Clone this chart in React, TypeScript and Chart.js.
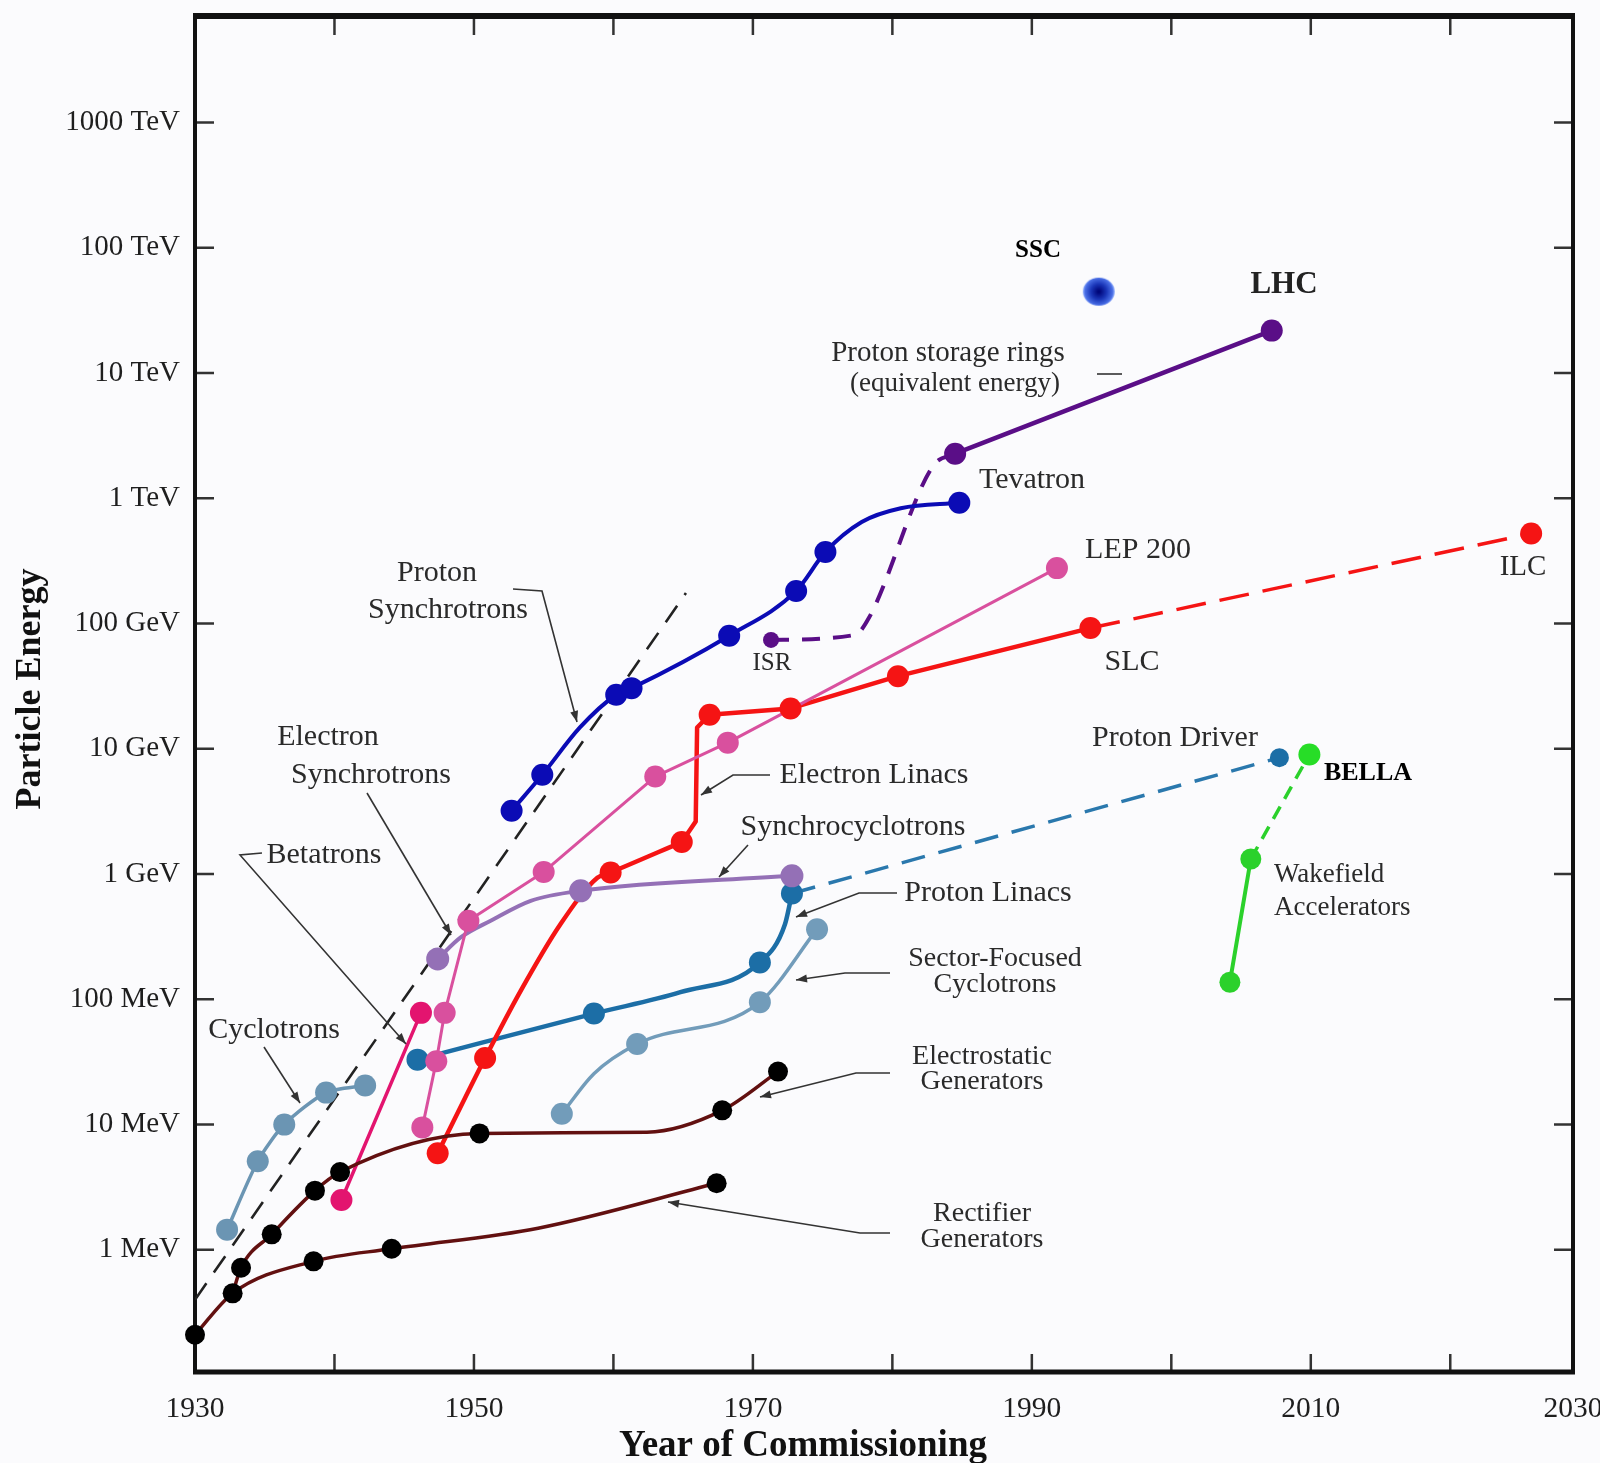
import React, { useEffect, useRef } from 'react';
import { Chart, registerables } from 'chart.js';

Chart.register(...registerables);

type P = [number, number]; // [year, energy in MeV]

// ---------------- data (year, MeV) ----------------
const rectifierPoints: P[] = [[1930, 0.21], [1932.7, 0.45], [1938.5, 0.81], [1944.1, 1.02], [1967.4, 3.4]];
const rectifierBends: P[] = [[1954.6, 1.49]];

const electrostaticPoints: P[] = [[1933.3, 0.72], [1935.5, 1.33], [1938.6, 2.97], [1940.4, 4.18], [1950.4, 8.5], [1967.8, 13], [1971.8, 26.5]];
const electrostaticBends: P[] = [[1932.7, 0.45], [1962.4, 8.7]];

const cyclotronPoints: P[] = [[1932.3, 1.45], [1934.5, 5.1], [1936.4, 10], [1939.4, 18], [1942.2, 20.5]];

const betatronPoints: P[] = [[1940.5, 2.5], [1946.2, 78]];

const electronSynchPoints: P[] = [[1946.3, 9.5], [1947.3, 32], [1947.9, 78], [1949.6, 424], [1955.0, 1040], [1963.0, 6000], [1968.2, 11200], [1991.8, 277000]];

const synchrocyclotronPoints: P[] = [[1947.4, 210], [1957.65, 735], [1972.8, 968]];
const synchrocyclotronBends: P[] = [[1949.05, 312], [1951.2, 424], [1954.07, 612]];

const electronLinacPoints: P[] = [[1947.4, 5.9], [1950.8, 34], [1959.8, 1030], [1964.9, 1800], [1966.9, 18700], [1972.7, 21000], [1980.4, 38000], [1994.2, 92000]];
const electronLinacCurveBends: P[] = [[1953.35, 117], [1956.2, 398], [1958.85, 933]];
const electronLinacJumpBends: P[] = [[1965.9, 2630], [1966.0, 14800]];
const ilcPoints: P[] = [[1994.2, 92000], [2025.8, 523000]];

const protonLinacPoints: P[] = [[1945.95, 33], [1958.6, 77], [1970.5, 197], [1972.8, 700]];
const protonLinacBends: P[] = [[1964.8, 114], [1972.3, 398]];
const protonDriverPoints: P[] = [[1972.8, 700], [2007.75, 8500]];

const sectorFocusedPoints: P[] = [[1956.3, 12.2], [1961.7, 44], [1970.5, 95], [1974.6, 363]];
const sectorFocusedBends: P[] = [[1958.6, 25.5]];

const protonSynchPoints: P[] = [[1952.7, 3200], [1954.9, 6200], [1960.2, 27000], [1961.3, 30500], [1968.3, 80000], [1973.1, 182000], [1975.2, 373000], [1984.8, 920000]];
const protonSynchBends: P[] = [[1957.6, 14800], [1977.8, 646000], [1980.6, 832000]];

const isrPoints: P[] = [[1971.3, 74000]];
const storageDashBends: P[] = [[1977.3, 81000], [1978.3, 110000], [1982.9, 1800000]];
const storageRingPoints: P[] = [[1984.5, 2270000], [2007.2, 21800000]];

const sscPoints: P[] = [[1994.8, 44600000]];

const wakefieldPoints: P[] = [[2004.2, 137], [2005.7, 1320]];
const bellaPoints: P[] = [[2009.9, 9000]];

const livingstonTrend: P[] = [[1930, 0.4], [1965.2, 175000]];

const yTickValues = [1, 10, 100, 1e3, 1e4, 1e5, 1e6, 1e7, 1e8, 1e9];
const yTickLabels = ['1 MeV', '10 MeV', '100 MeV', '1 GeV', '10 GeV', '100 GeV', '1 TeV', '10 TeV', '100 TeV', '1000 TeV'];
const xTickValues = [1930, 1940, 1950, 1960, 1970, 1980, 1990, 2000, 2010, 2020];
const xTickLabels = ['1930', '', '1950', '', '1970', '', '1990', '', '2010', ''];
const xEndLabel = '2030';

// ---------------- layout constants ----------------
const X_MIN = 1930;
const X_MAX = 2028.8; // frame edge of the reference (labelled 2030)
const Y_MIN = Math.pow(10, -0.975);
const Y_MAX = Math.pow(10, 9.85);
const SERIF = '"Liberation Serif", "Times New Roman", serif';

const merge = (a: P[], b: P[]): P[] => [...a, ...b].sort((p, q) => p[0] - q[0] || p[1] - q[1]);
const xy = (arr: P[]) => arr.map(([x, y]) => ({ x, y }));
const between = (arr: P[], lo: number, hi: number) => arr.filter(([x]) => x >= lo && x <= hi);

function lineDs(data: P[], color: string, width: number, extra: any = {}) {
  return {
    data: xy(data), showLine: true, borderColor: color, backgroundColor: color,
    borderWidth: width, pointRadius: 0, pointHoverRadius: 0, fill: false, order: 2,
    borderCapStyle: 'round', borderJoinStyle: 'round', tension: 0, ...extra,
  };
}
function markerDs(data: P[], color: string, radius: number, extra: any = {}) {
  return {
    data: xy(data), showLine: false, pointRadius: radius, pointHoverRadius: radius,
    pointBackgroundColor: color, pointBorderColor: color, pointBorderWidth: 0,
    backgroundColor: color, borderColor: color, order: 1, clip: false, ...extra,
  };
}
const smooth = { cubicInterpolationMode: 'monotone', tension: 0.4 };

type Ann = { t: string; x: number; y: number; size?: number; bold?: boolean; color?: string; align?: CanvasTextAlign };
const annotations: Ann[] = [
  { t: 'SSC', x: 1038, y: 251, size: 25, bold: true, color: '#000' },
  { t: 'LHC', x: 1284, y: 285, size: 31, bold: true, color: '#222' },
  { t: 'Proton storage rings', x: 948, y: 353, size: 29 },
  { t: '(equivalent energy)', x: 955, y: 384, size: 27 },
  { t: 'Tevatron', x: 1032, y: 480, size: 30 },
  { t: 'LEP 200', x: 1138, y: 550, size: 30 },
  { t: 'ILC', x: 1523, y: 567, size: 29 },
  { t: 'SLC', x: 1132, y: 662, size: 30 },
  { t: 'ISR', x: 772, y: 663, size: 25 },
  { t: 'Proton', x: 437, y: 573, size: 30 },
  { t: 'Synchrotrons', x: 448, y: 610, size: 30 },
  { t: 'Electron', x: 328, y: 737, size: 30 },
  { t: 'Synchrotrons', x: 371, y: 775, size: 30 },
  { t: 'Betatrons', x: 324, y: 855, size: 30 },
  { t: 'Cyclotrons', x: 274, y: 1030, size: 30 },
  { t: 'Electron Linacs', x: 874, y: 775, size: 30 },
  { t: 'Synchrocyclotrons', x: 853, y: 827, size: 30 },
  { t: 'Proton Linacs', x: 988, y: 893, size: 30 },
  { t: 'Sector-Focused', x: 995, y: 959, size: 28 },
  { t: 'Cyclotrons', x: 995, y: 985, size: 28 },
  { t: 'Electrostatic', x: 982, y: 1057, size: 28 },
  { t: 'Generators', x: 982, y: 1082, size: 28 },
  { t: 'Rectifier', x: 982, y: 1214, size: 28 },
  { t: 'Generators', x: 982, y: 1240, size: 28 },
  { t: 'Proton Driver', x: 1175, y: 738, size: 30 },
  { t: 'BELLA', x: 1368, y: 773, size: 26, bold: true, color: '#000' },
  { t: 'Wakefield', x: 1274, y: 875, size: 27, align: 'left' },
  { t: 'Accelerators', x: 1274, y: 908, size: 27, align: 'left' },
];

type Leader = { pts: number[][]; arrow: boolean };
const leaders: Leader[] = [
  { pts: [[513, 589], [542, 591], [577, 722]], arrow: true },
  { pts: [[367, 793], [451, 935]], arrow: true },
  { pts: [[262, 853], [240, 855], [406, 1044]], arrow: true },
  { pts: [[264, 1047], [300, 1103]], arrow: true },
  { pts: [[770, 775], [733, 775], [701, 795]], arrow: true },
  { pts: [[748, 845], [719, 877]], arrow: true },
  { pts: [[897, 893], [859, 893], [796, 917]], arrow: true },
  { pts: [[890, 973], [845, 973], [796, 980]], arrow: true },
  { pts: [[890, 1073], [856, 1073], [760, 1097]], arrow: true },
  { pts: [[890, 1233], [860, 1233], [668, 1202]], arrow: true },
  { pts: [[1097, 374], [1122, 374]], arrow: false },
];

const bgPlugin = {
  id: 'bg',
  beforeDraw(chart: any) {
    const c = chart.ctx;
    c.save();
    c.fillStyle = '#fbfbfd';
    c.fillRect(0, 0, chart.width, chart.height);
    c.restore();
  },
};

const framePlugin = {
  id: 'frame',
  beforeDatasetsDraw(chart: any) {
    const c = chart.ctx;
    const { left, right, top, bottom } = chart.chartArea;
    const xs = chart.scales.x;
    const ys = chart.scales.y;
    c.save();
    c.strokeStyle = '#333';
    c.lineWidth = 2.5;
    c.beginPath();
    yTickValues.forEach((v) => {
      const py = ys.getPixelForValue(v);
      c.moveTo(left, py); c.lineTo(left + 19, py);
      c.moveTo(right, py); c.lineTo(right - 19, py);
    });
    xTickValues.forEach((v) => {
      const px = xs.getPixelForValue(v);
      if (px <= left + 2) return;
      c.moveTo(px, bottom); c.lineTo(px, bottom - 18);
      c.moveTo(px, top); c.lineTo(px, top + 19);
    });
    c.stroke();
    c.strokeStyle = '#111';
    c.lineWidth = 4;
    c.strokeRect(left, top, right - left, bottom - top);
    c.lineWidth = 6;
    c.beginPath(); c.moveTo(left - 2, top); c.lineTo(right + 2, top); c.stroke();
    c.lineWidth = 5;
    c.beginPath(); c.moveTo(left - 2, bottom); c.lineTo(right + 2, bottom); c.stroke();
    c.restore();
  },
};

const annPlugin = {
  id: 'ann',
  afterDraw(chart: any) {
    const c = chart.ctx;
    c.save();
    c.strokeStyle = '#333';
    c.fillStyle = '#333';
    c.lineWidth = 1.6;
    leaders.forEach((l) => {
      c.beginPath();
      l.pts.forEach(([x, y], i) => (i === 0 ? c.moveTo(x, y) : c.lineTo(x, y)));
      c.stroke();
      if (l.arrow) {
        const n = l.pts.length;
        const [x1, y1] = l.pts[n - 2];
        const [x2, y2] = l.pts[n - 1];
        const a = Math.atan2(y2 - y1, x2 - x1);
        const L = 11, W = 4;
        c.beginPath();
        c.moveTo(x2, y2);
        c.lineTo(x2 - L * Math.cos(a) + W * Math.sin(a), y2 - L * Math.sin(a) - W * Math.cos(a));
        c.lineTo(x2 - L * Math.cos(a) - W * Math.sin(a), y2 - L * Math.sin(a) + W * Math.cos(a));
        c.closePath();
        c.fill();
      }
    });
    c.textBaseline = 'middle';
    annotations.forEach((a) => {
      c.font = `${a.bold ? 'bold ' : ''}${a.size || 30}px ${SERIF}`;
      c.fillStyle = a.color || '#2a2a2a';
      c.textAlign = a.align || 'center';
      c.fillText(a.t, a.x, a.y);
    });
    c.fillStyle = '#111';
    c.font = `bold 37px ${SERIF}`;
    c.textAlign = 'center';
    c.fillText('Year of Commissioning', 803, 1446);
    c.save();
    c.translate(31, 689);
    c.rotate(-Math.PI / 2);
    c.font = `bold 36px ${SERIF}`;
    c.fillText('Particle Energy', 0, 0);
    c.restore();
    c.restore();
  },
};

export default function App() {
  const ref = useRef<HTMLCanvasElement | null>(null);

  useEffect(() => {
    if (!ref.current) return;

    const ssc = document.createElement('canvas');
    ssc.width = 36; ssc.height = 32;
    const g = ssc.getContext('2d')!;
    const grad = g.createRadialGradient(18, 16, 1, 18, 16, 16);
    grad.addColorStop(0, '#00067a');
    grad.addColorStop(0.45, '#1a36b8');
    grad.addColorStop(0.85, '#4a6fe6');
    grad.addColorStop(1, '#9ab6ff');
    g.fillStyle = grad;
    g.beginPath(); g.ellipse(18, 16, 16, 14, 0, 0, Math.PI * 2); g.fill();

    const maroon = '#621010';
    const eLinacSmooth = merge(between(electronLinacPoints, 1947, 1965), electronLinacCurveBends);
    const eLinacStraight = merge(between(electronLinacPoints, 1964.8, 2000), electronLinacJumpBends);

    const datasets: any[] = [
      lineDs(livingstonTrend, '#222', 2.6, { borderDash: [20, 13], borderCapStyle: 'butt', order: 3 }),
      lineDs(merge(rectifierPoints, rectifierBends), maroon, 3.5, smooth),
      lineDs(merge(electrostaticPoints, electrostaticBends), maroon, 3.5, smooth),
      lineDs(cyclotronPoints, '#6b95b3', 3.5, { tension: 0.25 }),
      lineDs(betatronPoints, '#e3146f', 3.5),
      lineDs(electronSynchPoints, '#d9509e', 3),
      lineDs(merge(synchrocyclotronPoints, synchrocyclotronBends), '#9470b6', 4, smooth),
      lineDs(eLinacSmooth, '#f51414', 4.5, smooth),
      lineDs(eLinacStraight, '#f51414', 4.5),
      lineDs(ilcPoints, '#f51414', 3.5, { borderDash: [30, 14], borderCapStyle: 'butt' }),
      lineDs(merge(protonLinacPoints, protonLinacBends), '#1c6ea6', 4.5, smooth),
      lineDs(protonDriverPoints, '#2a78ad', 3.5, { borderDash: [24, 14], borderCapStyle: 'butt' }),
      lineDs(merge(sectorFocusedPoints, sectorFocusedBends), '#729cba', 3.5, smooth),
      lineDs(merge(protonSynchPoints, protonSynchBends), '#0b0bb5', 4, smooth),
      lineDs(merge(isrPoints, merge(storageDashBends, storageRingPoints.slice(0, 1))), '#5a0e87', 4, { ...smooth, borderDash: [18, 13], borderCapStyle: 'butt' }),
      lineDs(storageRingPoints, '#5a0e87', 4.5),
      lineDs(wakefieldPoints, '#2bd12b', 4),
      lineDs([wakefieldPoints[wakefieldPoints.length - 1], ...bellaPoints], '#2bd12b', 3.5, { borderDash: [14, 9], borderCapStyle: 'butt' }),
      markerDs(rectifierPoints, '#000', 10),
      markerDs(electrostaticPoints, '#000', 10),
      markerDs(cyclotronPoints, '#6b95b3', 11),
      markerDs(betatronPoints, '#e3146f', 11),
      markerDs(electronSynchPoints, '#d9509e', 11),
      markerDs(synchrocyclotronPoints, '#9470b6', 11.5),
      markerDs(electronLinacPoints, '#f51414', 11),
      markerDs(ilcPoints.slice(1), '#f51414', 11),
      markerDs(protonLinacPoints, '#1c6ea6', 11),
      markerDs(protonDriverPoints.slice(1), '#1c6ea6', 9.5),
      markerDs(sectorFocusedPoints, '#729cba', 11),
      markerDs(protonSynchPoints, '#0b0bb5', 11),
      markerDs(isrPoints, '#5a0e87', 8),
      markerDs(storageRingPoints, '#5a0e87', 11),
      markerDs(wakefieldPoints, '#2bd12b', 10.5),
      markerDs(bellaPoints, '#27dd27', 11),
      markerDs(sscPoints, '#1a36b8', 16, { pointStyle: ssc }),
    ];

    const chart = new Chart(ref.current, {
      type: 'scatter',
      data: { datasets },
      plugins: [bgPlugin, framePlugin, annPlugin],
      options: {
        animation: false,
        responsive: false,
        devicePixelRatio: 1,
        events: [],
        layout: { padding: { left: 0, right: 27, top: 13, bottom: 0 } },
        plugins: { legend: { display: false }, tooltip: { enabled: false } },
        scales: {
          x: {
            type: 'linear',
            position: 'bottom',
            min: X_MIN,
            max: X_MAX,
            grid: { display: false, drawTicks: false },
            border: { display: false },
            afterBuildTicks: (s: any) => {
              s.ticks = [...xTickValues.map((v) => ({ value: v })), { value: X_MAX }];
            },
            afterFit: (s: any) => {
              s.height = 91;
              s.paddingLeft = 0;
              s.paddingRight = 0;
            },
            ticks: {
              autoSkip: false,
              maxRotation: 0,
              minRotation: 0,
              padding: 20,
              color: '#1e1e1e',
              font: { family: SERIF, size: 29.5 },
              callback: (v: any) => {
                const i = xTickValues.indexOf(Number(v));
                if (i >= 0) return xTickLabels[i];
                return Number(v) === X_MAX ? xEndLabel : '';
              },
            },
          },
          y: {
            type: 'logarithmic',
            position: 'left',
            min: Y_MIN,
            max: Y_MAX,
            grid: { display: false, drawTicks: false },
            border: { display: false },
            afterBuildTicks: (s: any) => {
              s.ticks = yTickValues.map((v) => ({ value: v }));
            },
            afterFit: (s: any) => {
              s.width = 195;
              s.paddingTop = 0;
              s.paddingBottom = 0;
            },
            ticks: {
              autoSkip: false,
              padding: 15,
              color: '#1e1e1e',
              font: { family: SERIF, size: 29 },
              callback: (v: any) => {
                const i = yTickValues.indexOf(Number(v));
                return i >= 0 ? yTickLabels[i] : '';
              },
            },
          },
        },
      } as any,
    });
    return () => chart.destroy();
  }, []);

  return (
    <div style={{ position: 'absolute', left: 0, top: 0, width: 1600, height: 1463 }}>
      <canvas ref={ref} width={1600} height={1463} style={{ display: 'block', width: 1600, height: 1463 }} />
    </div>
  );
}
